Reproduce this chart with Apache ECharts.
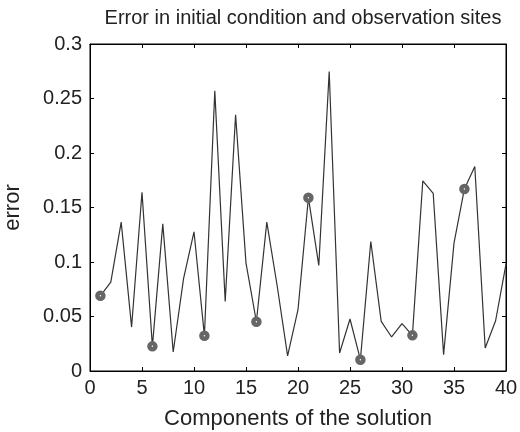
<!DOCTYPE html>
<html>
<head>
<meta charset="utf-8">
<script src="https://cdn.jsdelivr.net/npm/echarts@6/dist/echarts.min.js"></script>
<style>html,body{margin:0;padding:0;background:#fff;}#c{width:520px;height:432px;}</style>
</head>
<body>
<div id="c"></div>
<script>
// Component index 1..40
var components = [1,2,3,4,5,6,7,8,9,10,11,12,13,14,15,16,17,18,19,20,21,22,23,24,25,26,27,28,29,30,31,32,33,34,35,36,37,38,39,40];
// Error values per component
var errors = [0.069,0.0816,0.1366,0.0403,0.164,0.0226,0.135,0.0174,0.085,0.1277,
              0.0324,0.257,0.0639,0.235,0.099,0.0452,0.1366,0.078,0.0138,0.0562,
              0.159,0.0969,0.2747,0.0165,0.0477,0.0104,0.1188,0.0455,0.0312,0.0434,
              0.0327,0.1745,0.163,0.015,0.1173,0.167,0.1876,0.0211,0.0461,0.098];
// Observation sites (component indices)
var obsSites = [1,6,11,16,21,26,31,36];
var xTicks = [0,5,10,15,20,25,30,35,40];
var yTicks = [0,0.05,0.1,0.15,0.2,0.25,0.3];

var lineData = components.map(function(c,i){return [c, errors[i]];});
var obsData = obsSites.map(function(c){return [c, errors[components.indexOf(c)]];});

var font = 'Liberation Sans, Arial, Helvetica, sans-serif';
var chart = echarts.init(document.getElementById('c'), null, {renderer:'canvas'});
var xCommon = {type:'value', min:0, max:40, interval:5,
  axisLine:{show:true, onZero:false, lineStyle:{color:'#000', width:1}},
  axisTick:{show:true, inside:true, length:4, lineStyle:{color:'#000'}},
  splitLine:{show:false}};
var yCommon = {type:'value', min:0, max:0.3, interval:0.05,
  axisLine:{show:true, onZero:false, lineStyle:{color:'#000', width:1}},
  axisTick:{show:true, inside:true, length:4, lineStyle:{color:'#000'}},
  splitLine:{show:false}};
chart.setOption({
  animation:false,
  backgroundColor:'#fff',
  title:{text:'Error in initial condition and observation sites', left:298, textAlign:'center', top:3,
    textStyle:{fontFamily:font, fontSize:20, fontWeight:'normal', color:'#222'}},
  grid:{left:90, right:14, top:44, bottom:61, outerBoundsMode:'none', containLabel:false,
    show:true, borderColor:'#000', borderWidth:1, backgroundColor:'transparent'},
  xAxis:[
    Object.assign({}, xCommon, {position:'bottom',
      name:'Components of the solution', nameLocation:'middle', nameGap:37,
      nameTextStyle:{fontFamily:font, fontSize:22, color:'#222'},
      axisLabel:{fontFamily:font, fontSize:20, color:'#222', margin:7,
        formatter:function(v){return xTicks.indexOf(v)>=0 ? String(v) : '';}}}),
    Object.assign({}, xCommon, {position:'top', axisLabel:{show:false}})
  ],
  yAxis:[
    Object.assign({}, yCommon, {position:'left',
      name:'error', nameLocation:'middle', nameGap:66,
      nameTextStyle:{fontFamily:font, fontSize:22, color:'#222'},
      axisLabel:{fontFamily:font, fontSize:20, color:'#222', margin:8,
        formatter:function(v){var r=Math.round(v*100)/100; return yTicks.indexOf(r)>=0 ? String(r) : '';}}}),
    Object.assign({}, yCommon, {position:'right', axisLabel:{show:false}})
  ],
  series:[
    {type:'line', data:lineData, showSymbol:false, symbol:'none',
     lineStyle:{color:'#333', width:1.2}, z:2},
    {type:'scatter', data:obsData, symbol:'circle', symbolSize:6,
     itemStyle:{color:'#fff', borderColor:'#666', borderWidth:4.5, opacity:1}, z:3}
  ]
});
</script>
</body>
</html>
